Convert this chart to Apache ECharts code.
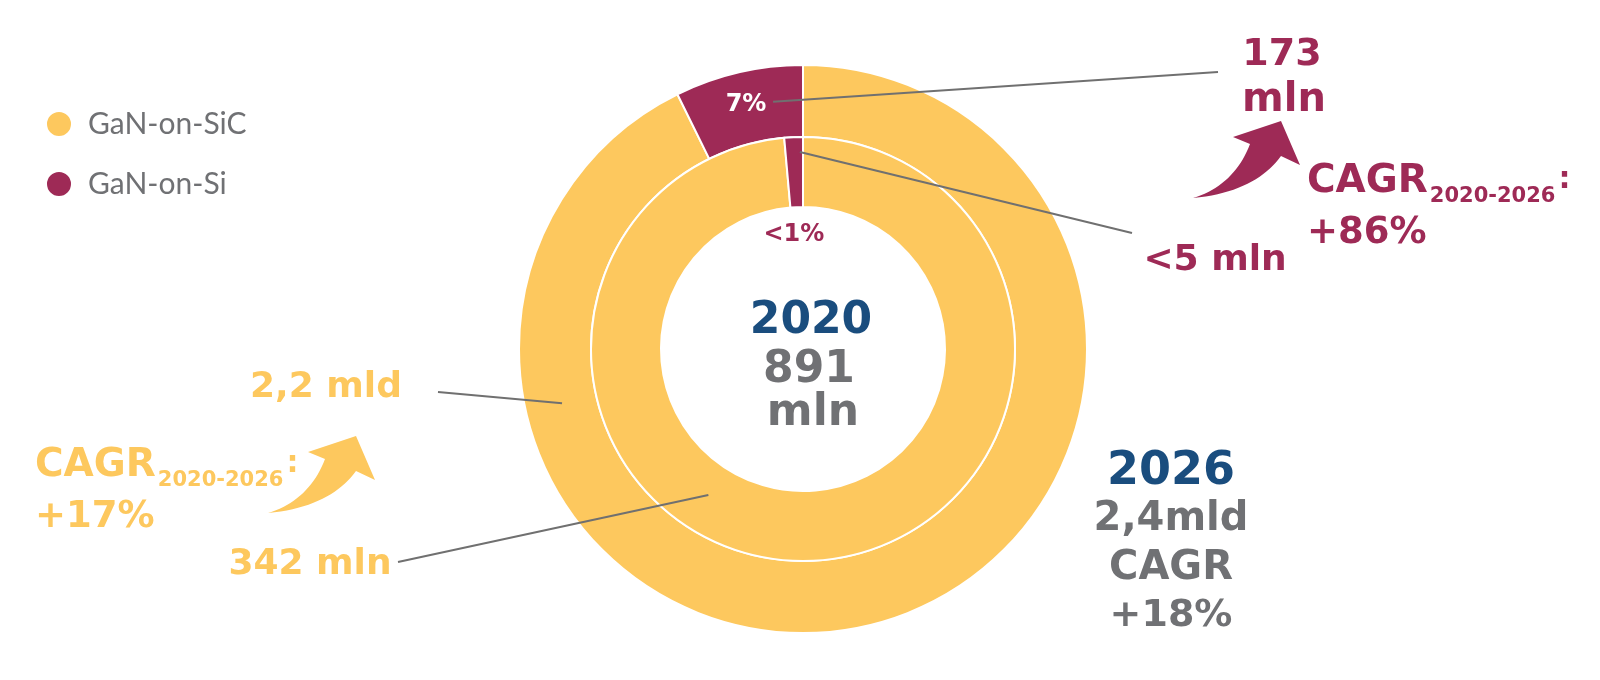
<!DOCTYPE html>
<html>
<head>
<meta charset="utf-8">
<script src="https://cdn.jsdelivr.net/npm/echarts@6/dist/echarts.min.js"></script>
<style>
html,body{margin:0;padding:0;background:#fff;}
#chart{width:1600px;height:680px;}
</style>
</head>
<body>
<div id="chart"></div>
<script>
// ---- data ----
const categories = ['GaN-on-SiC', 'GaN-on-Si'];
const values2026 = [2200, 173];     // outer ring (mln USD)
const values2020 = [342, 4.9];      // inner ring (mln USD)
const shareLabels2026 = ['', '7%'];
const shareLabels2020 = ['', '<1%'];
const valueLabels2026 = ['2,2 mld', '173 mln'];
const valueLabels2020 = ['342 mln', '<5 mln'];
const cagrLabels = ['+17%', '+86%'];
const centerYear = '2020';
const centerTotal = ['891', 'mln'];
const totalYear = '2026';
const totalBlock = ['2,4mld', 'CAGR', '+18%'];

const colors = ['#FDC85E', '#9E2A56'];
const BLUE = '#1A4D7E', GRAY = '#707174', LINE = '#707070';
const BOLD = '"DejaVu Sans", sans-serif';

const C = [803, 349];
function angleOf(vals, idx, frac) {
  const total = vals.reduce((a, b) => a + b, 0);
  let cum = 0;
  for (let i = 0; i < idx; i++) cum += vals[i];
  const f = (cum + vals[idx] * frac) / total;
  return (90 - 360 * f) * Math.PI / 180;
}
function polar(vals, idx, frac, r) {
  const a = angleOf(vals, idx, frac);
  return [C[0] + r * Math.cos(a), C[1] - r * Math.sin(a)];
}

const chart = echarts.init(document.getElementById('chart'), null, {renderer: 'canvas'});

function txt(text, x, y, color, size, align) {
  return {
    type: 'text', x: x, y: y, silent: true, z: 10,
    style: {
      text: text, fill: color,
      font: 'bold ' + size + 'px ' + BOLD,
      textAlign: align || 'center', textVerticalAlign: 'middle'
    }
  };
}
function line(p1, p2) {
  return {type: 'line', silent: true, z: 10, shape: {x1: p1[0], y1: p1[1], x2: p2[0], y2: p2[1]},
          style: {stroke: LINE, lineWidth: 2}};
}
function cagr(x, y, color, value) {
  return [
    {
      type: 'text', x: x, y: y, silent: true, z: 10,
      style: {
        text: '{a|CAGR}{b|2020-2026}{c|:}', fill: color,
        textAlign: 'left', textVerticalAlign: 'bottom',
        rich: {
          a: {fontFamily: BOLD, fontWeight: 'bold', fontSize: 39, fill: color, verticalAlign: 'bottom'},
          b: {fontFamily: BOLD, fontWeight: 'bold', fontSize: 21, fill: color, verticalAlign: 'bottom', padding: [0, 0, -6, 2]},
          c: {fontFamily: BOLD, fontWeight: 'bold', fontSize: 30, fill: color, verticalAlign: 'bottom', padding: [0, 0, 6, 3]}
        }
      }
    },
    txt(value, x, y + 32, color, 37, 'left')
  ];
}
// curved arrow outline, built from two cubic curves sampled into a polygon
function cubic(p0, p1, p2, p3, n) {
  const pts = [];
  for (let i = 0; i <= n; i++) {
    const t = i / n, u = 1 - t;
    pts.push([
      u*u*u*p0[0] + 3*u*u*t*p1[0] + 3*u*t*t*p2[0] + t*t*t*p3[0],
      u*u*u*p0[1] + 3*u*u*t*p1[1] + 3*u*t*t*p2[1] + t*t*t*p3[1]
    ]);
  }
  return pts;
}
function arrow(x, y, color) {
  let pts = cubic([0, 0], [44, -4], [72, -20], [88, -42], 20);
  pts = pts.concat([[107, -33], [88, -77], [40, -61], [57, -54]]);
  pts = pts.concat(cubic([57, -54], [47, -27], [27, -8], [0, 0], 20).slice(1));
  return {type: 'polygon', x: x, y: y, silent: true, z: 10, shape: {points: pts}, style: {fill: color}};
}

const innerLabelPos = polar(values2020, 1, 0.5, 116);

const graphics = [
  line(polar(values2026, 1, 0.737, 249), [1218, 72]),
  line(polar(values2020, 1, 0.82, 197), [1132, 233]),
  line(polar(values2026, 0, 0.771, 247), [438, 392]),
  line(polar(values2020, 0, 0.60, 174), [398, 562]),
  txt(shareLabels2020[1], innerLabelPos[0] - 4, innerLabelPos[1] + 2, colors[1], 24, 'center'),
  txt(valueLabels2026[1].split(' ')[0], 1282, 55, colors[1], 38),
  txt(valueLabels2026[1].split(' ')[1], 1284, 101, colors[1], 40),
  txt(valueLabels2020[1], 1215, 261, colors[1], 36),
  txt(valueLabels2026[0], 326, 388, colors[0], 36),
  txt(valueLabels2020[0], 310, 565, colors[0], 36),
  arrow(1193, 198, colors[1]),
  arrow(268, 513, colors[0]),
  txt(centerYear, 811, 322, BLUE, 44),
  txt(centerTotal[0], 809, 371, GRAY, 44),
  txt(centerTotal[1], 813, 414, GRAY, 44),
  txt(totalYear, 1171, 472, BLUE, 46),
  txt(totalBlock[0], 1171, 520, GRAY, 40),
  txt(totalBlock[1], 1171, 569, GRAY, 40),
  txt(totalBlock[2], 1171, 616, GRAY, 38)
].concat(cagr(1307, 201, colors[1], cagrLabels[1]))
 .concat(cagr(35, 485, colors[0], cagrLabels[0]));

const option = {
  backgroundColor: '#fff',
  animation: false,
  color: colors,
  legend: {
    orient: 'vertical', left: 40, top: 104,
    icon: 'circle', itemWidth: 26, itemHeight: 26, itemGap: 30,
    selectedMode: false,
    data: categories,
    textStyle: {fontFamily: 'Lato, sans-serif', fontSize: 30, color: GRAY, padding: [0, 0, 0, 11]}
  },
  series: [
    {
      name: '2026', type: 'pie', center: C, radius: [212, 284],
      startAngle: 90, clockwise: true, silent: true, avoidLabelOverlap: false,
      itemStyle: {borderColor: '#fff', borderWidth: 2},
      label: {show: true, position: 'inside', formatter: p => shareLabels2026[p.dataIndex],
              color: '#fff', fontFamily: BOLD, fontWeight: 'bold', fontSize: 24},
      labelLine: {show: false},
      emphasis: {disabled: true},
      data: categories.map((n, i) => ({name: n, value: values2026[i]}))
    },
    {
      name: '2020', type: 'pie', center: C, radius: [142, 212],
      startAngle: 90, clockwise: true, silent: true,
      itemStyle: {borderColor: '#fff', borderWidth: 2},
      label: {show: false}, labelLine: {show: false},
      emphasis: {disabled: true},
      data: categories.map((n, i) => ({name: n, value: values2020[i]}))
    }
  ],
  graphic: graphics
};
chart.setOption(option);
</script>
</body>
</html>
